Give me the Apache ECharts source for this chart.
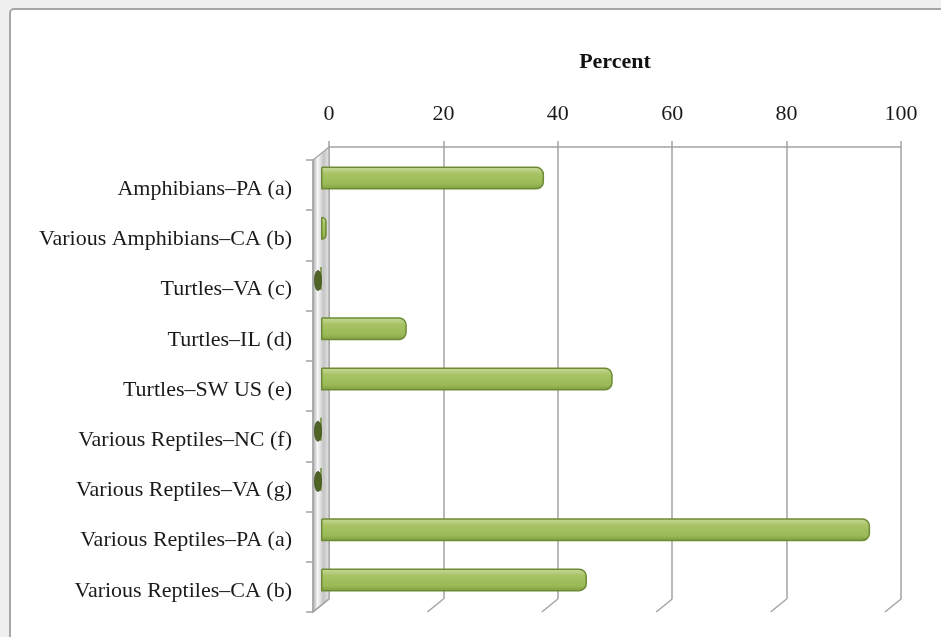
<!DOCTYPE html>
<html>
<head>
<meta charset="utf-8">
<script src="https://cdn.jsdelivr.net/npm/echarts@6/dist/echarts.min.js"></script>
<style>
html,body{margin:0;padding:0;background:#f0f0f0;}
#chart{width:941px;height:637px;}
</style>
</head>
<body>
<div id="chart"></div>
<script>
var categories = [
  'Amphibians\u2013PA (a)',
  'Various Amphibians\u2013CA (b)',
  'Turtles\u2013VA (c)',
  'Turtles\u2013IL (d)',
  'Turtles\u2013SW US (e)',
  'Various Reptiles\u2013NC (f)',
  'Various Reptiles\u2013VA (g)',
  'Various Reptiles\u2013PA (a)',
  'Various Reptiles\u2013CA (b)'
];
var percentValues = [39, 1, 0, 15, 51, 0, 0, 96, 46.5];
var tickValues = [0, 20, 40, 60, 80, 100];
var axisTitle = 'Percent';

var DX = -16, DY = 13;
var font = '"Liberation Serif", "Times New Roman", serif';
var gridColor = '#a3a3a3';

var chart = echarts.init(document.getElementById('chart'));
chart.setOption({
  backgroundColor: '#f0f0f0',
  animation: false,
  graphic: [{
    type: 'rect', z: -10, silent: true,
    shape: { x: 10, y: 9, width: 1000, height: 700, r: 4 },
    style: { fill: '#ffffff', stroke: '#a6a6a6', lineWidth: 2 }
  }],
  grid: [
    { left: 329, width: 572, top: 147, height: 452 },
    { left: 321, width: 572, top: 153, height: 452 },
    { left: 313, width: 572, top: 160, height: 452 },
    { left: 313, width: 572, top: 164, height: 452 }
  ],
  xAxis: [
    {
      gridIndex: 0, type: 'value', position: 'top', min: 0, max: 100, interval: 20,
      name: axisTitle, nameLocation: 'middle', nameGap: 74,
      nameTextStyle: { fontFamily: font, fontSize: 22, fontWeight: 'bold', color: '#111' },
      axisLine: { show: true, lineStyle: { color: gridColor, width: 1.5 } },
      axisTick: { show: true, length: 6, lineStyle: { color: gridColor, width: 1.5 } },
      axisLabel: { fontFamily: font, fontSize: 22, color: '#1a1a1a', margin: 22 },
      splitLine: { show: true, lineStyle: { color: gridColor, width: 1.5 } }
    },
    { gridIndex: 1, type: 'value', min: 0, max: 100, show: false },
    { gridIndex: 2, type: 'value', min: 0, max: 100, show: false },
    { gridIndex: 3, type: 'value', min: 0, max: 100, show: false }
  ],
  yAxis: [
    { gridIndex: 0, type: 'category', data: categories, inverse: true, show: false },
    { gridIndex: 1, type: 'category', data: categories, inverse: true, show: false },
    {
      gridIndex: 2, type: 'category', data: categories, inverse: true,
      axisLine: { show: true, lineStyle: { color: gridColor, width: 1.5 } },
      axisTick: { show: true, length: 7, lineStyle: { color: gridColor, width: 1.5 } },
      axisLabel: { show: false },
      splitLine: { show: false }
    },
    {
      gridIndex: 3, type: 'category', data: categories, inverse: true,
      axisLine: { show: false },
      axisTick: { show: false },
      axisLabel: { fontFamily: font, fontSize: 22, color: '#1a1a1a', margin: 21 },
      splitLine: { show: false }
    }
  ],
  series: [
    {
      type: 'custom', xAxisIndex: 0, yAxisIndex: 0, z: 1, silent: true,
      data: [0],
      renderItem: function (params, api) {
        var cs = params.coordSys;
        return {
          type: 'polygon',
          shape: { points: [
            [cs.x, cs.y], [cs.x, cs.y + cs.height],
            [cs.x + DX, cs.y + cs.height + DY], [cs.x + DX, cs.y + DY]
          ] },
          style: {
            fill: new echarts.graphic.LinearGradient(0, 0, 1, 0, [
              { offset: 0, color: '#a0a0a0' },
              { offset: 0.3, color: '#f8f8f8' },
              { offset: 0.65, color: '#c4c4c4' },
              { offset: 1, color: '#e8e8e8' }
            ]),
            stroke: gridColor, lineWidth: 1.2
          }
        };
      }
    },
    {
      type: 'custom', xAxisIndex: 0, yAxisIndex: 0, z: 1, silent: true,
      data: tickValues,
      renderItem: function (params, api) {
        var cs = params.coordSys;
        var x = api.coord([api.value(0), 0])[0];
        var yb = cs.y + cs.height;
        return {
          type: 'line',
          shape: { x1: x, y1: yb, x2: x + DX, y2: yb + DY },
          style: { stroke: gridColor, lineWidth: 1.5 }
        };
      }
    },
    {
      type: 'bar', xAxisIndex: 1, yAxisIndex: 1, z: 3,
      data: percentValues, barWidth: 23,
      itemStyle: {
        color: new echarts.graphic.LinearGradient(0, 0, 0, 1, [
          { offset: 0, color: '#c9dc9f' },
          { offset: 0.3, color: '#a8c466' },
          { offset: 0.75, color: '#9bb957' },
          { offset: 1, color: '#7e9c40' }
        ]),
        borderColor: '#6d8a35', borderWidth: 1.5,
        borderRadius: [0, 7, 7, 0]
      }
    },
    {
      type: 'custom', xAxisIndex: 1, yAxisIndex: 1, z: 4, silent: true,
      data: percentValues.map(function (v, i) { return [v, i]; }),
      renderItem: function (params, api) {
        if (api.value(0) !== 0) return null;
        var p = api.coord([0, api.value(1)]);
        return {
          type: 'ellipse',
          shape: { cx: p[0] - 3, cy: p[1] + 2, rx: 3.5, ry: 10 },
          style: { fill: '#4f6426', stroke: '#3d4f1c', lineWidth: 0.8 }
        };
      }
    }
  ]
});
</script>
</body>
</html>
